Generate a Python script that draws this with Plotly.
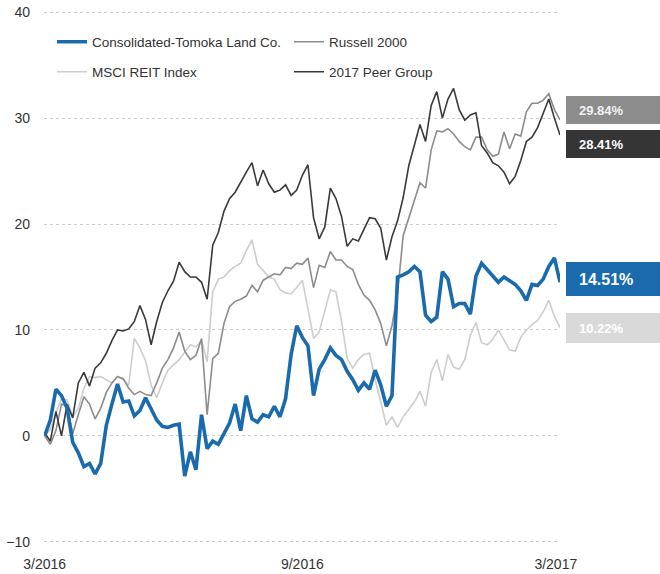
import pandas as pd
import plotly.graph_objects as go

# ---- data (cumulative % return, sampled every 4 days) ----
start_date = "2016-03-01"
n_points = 93
dates = pd.date_range(start_date, periods=n_points, freq="4D")

cto = [0, 1.5, 4.4, 3.8, 2.6, -0.6, -1.6, -2.9, -2.6, -3.6,
       -2.6, 1.0, 3.0, 4.9, 3.2, 3.3, 1.9, 2.4, 3.6, 2.6,
       1.5, 0.9, 0.8, 1.0, 1.1, -3.8, -1.5, -3.2, 2.0, -1.2,
       -0.5, -0.8, 0.2, 1.2, 3.0, 0.5, 3.8, 1.6, 1.3, 2.0,
       1.8, 2.8, 1.8, 3.5, 7.7, 10.4, 9.3, 8.5, 3.8, 6.3,
       7.2, 8.3, 7.6, 7.2, 6.1, 5.3, 4.3, 5.0, 4.4, 6.2,
       4.8, 2.8, 3.8, 15.0, 15.2, 15.5, 16.0, 15.5, 11.4, 10.8,
       11.2, 15.5, 14.8, 12.2, 12.5, 12.5, 11.5, 15.1, 16.3, 15.7,
       15.2, 14.5, 15.0, 14.6, 14.3, 13.7, 12.8, 14.3, 14.2, 14.8,
       16.0, 16.8, 14.51]

russell = [0, -0.8, 0.5, 3.0, 2.8, 0.2, 2.0, 3.7, 3.0, 1.6,
           2.6, 4.1, 5.0, 5.6, 5.4, 4.5, 3.9, 4.2, 3.9, 3.8,
           5.0, 6.4, 7.2, 8.3, 9.8, 8.0, 7.2, 7.6, 9.2, 2.0,
           7.3, 7.8, 10.6, 12.2, 12.7, 12.9, 13.2, 14.2, 13.6, 14.7,
           15.0, 15.3, 15.2, 15.9, 15.8, 16.3, 16.2, 16.8, 14.0, 16.1,
           15.9, 17.4, 16.6, 16.6, 16.0, 15.7, 14.3, 13.3, 12.8, 11.9,
           10.6, 8.5, 10.4, 13.5, 18.9, 20.6, 22.2, 23.9, 23.4, 27.0,
           28.8, 28.7, 29.0, 28.5, 27.8, 27.3, 27.0, 28.2, 28.2, 27.0,
           26.4, 26.6, 28.7, 27.1, 28.5, 28.3, 30.6, 31.4, 31.4, 31.7,
           32.3, 30.8, 29.84]

msci = [0, 0.6, 2.2, 3.5, 3.4, 1.8, 2.6, 4.5, 5.6, 5.5,
        5.6, 5.3, 5.0, 5.6, 5.3, 4.8, 9.2, 8.3, 7.1, 4.8,
        3.6, 5.0, 6.2, 6.7, 7.2, 7.9, 8.6, 8.4, 9.0, 7.0,
        13.6, 14.8, 15.0, 15.6, 16.0, 16.3, 17.5, 18.5, 16.2, 15.6,
        15.0, 14.8, 13.8, 13.5, 13.4, 14.0, 14.7, 12.0, 9.2, 9.8,
        11.9, 13.8, 13.6, 10.8, 7.3, 6.4, 7.2, 7.7, 7.8, 5.3,
        3.2, 1.0, 1.8, 0.8, 1.8, 2.5, 3.2, 4.2, 2.8, 6.0,
        7.2, 5.2, 7.7, 6.5, 6.3, 7.2, 9.5, 10.7, 8.8, 8.6,
        9.1, 10.0, 9.0, 8.1, 8.0, 9.3, 10.0, 10.5, 10.9, 11.7,
        12.8, 11.3, 10.22]

peer = [0.3, -0.5, 2.3, 0.0, 3.0, 1.7, 5.0, 6.0, 4.7, 6.4,
        6.9, 7.8, 9.0, 10.0, 9.9, 10.1, 10.8, 12.3, 11.0, 8.6,
        10.8, 12.6, 13.7, 14.6, 16.4, 15.5, 15.0, 15.0, 14.5, 12.9,
        18.0, 19.2, 21.2, 22.4, 23.0, 24.0, 24.9, 25.8, 23.6, 25.1,
        23.8, 23.0, 23.2, 23.7, 22.7, 23.2, 24.6, 25.6, 20.6, 18.6,
        19.7, 23.4, 22.4, 20.7, 17.9, 18.6, 18.4, 19.5, 20.6, 20.5,
        19.6, 16.6, 18.8, 20.3, 22.5, 25.5, 27.5, 29.4, 27.8, 31.2,
        32.5, 30.0, 31.8, 32.8, 30.8, 29.8, 30.3, 30.5, 27.4, 26.7,
        25.8, 25.5, 24.9, 23.8, 24.5, 26.0, 27.8, 28.2, 29.1, 30.5,
        31.8, 30.0, 28.41]

series_names = ["Consolidated-Tomoka Land Co.", "Russell 2000",
                "MSCI REIT Index", "2017 Peer Group"]
end_labels = ["14.51%", "29.84%", "10.22%", "28.41%"]

tick_dates = ["2016-03-01", "2016-09-01", "2017-03-01"]
tick_labels = ["3/2016", "9/2016", "3/2017"]
y_ticks = [-10, 0, 10, 20, 30, 40]

# ---- layout geometry (body margin removed, so window px == figure px) ----
FONT = "Liberation Sans, Arial, sans-serif"
W, H = 660, 574
ML, MT, PW, PH = 44, 9, 516, 536
MR = W - ML - PW
MB = H - MT - PH

def px_x(px):  # pixel -> paper x
    return (px - ML) / PW

def px_y(py):  # pixel -> paper y
    return (MT + PH - py) / PH

colors = {"cto": "#1a6aae", "russell": "#8c8c8c", "msci": "#cdcdcd", "peer": "#3a3a3a"}

fig = go.Figure()
fig.add_trace(go.Scatter(x=dates, y=msci, mode="lines", name=series_names[2],
                         line=dict(color=colors["msci"], width=1.6), legend="legend3"))
fig.add_trace(go.Scatter(x=dates, y=russell, mode="lines", name=series_names[1],
                         line=dict(color=colors["russell"], width=1.6), legend="legend2"))
fig.add_trace(go.Scatter(x=dates, y=peer, mode="lines", name=series_names[3],
                         line=dict(color=colors["peer"], width=1.6), legend="legend4"))
fig.add_trace(go.Scatter(x=dates, y=cto, mode="lines", name=series_names[0],
                         line=dict(color=colors["cto"], width=3.6), legend="legend"))

leg_font = dict(family=FONT, size=13.5, color="#333333")
def leg(px, py):
    return dict(x=px_x(px), y=px_y(py), xanchor="left", yanchor="middle",
                font=leg_font, bgcolor="rgba(0,0,0,0)", borderwidth=0)

# label boxes on the right
boxes = [
    (end_labels[1], 96, 124, "#8c8c8c", "#f2f2f2", 13),
    (end_labels[3], 130, 158, "#353535", "#ffffff", 13),
    (end_labels[0], 262, 296, "#1a6aae", "#ffffff", 16),
    (end_labels[2], 313, 343, "#d9d9d9", "#ffffff", 13),
]
shapes = []
annotations = []
for txt, y0, y1, bg, fc, fs in boxes:
    shapes.append(dict(type="rect", xref="paper", yref="paper",
                       x0=px_x(566), x1=px_x(662), y0=px_y(y1), y1=px_y(y0),
                       fillcolor=bg, line=dict(width=0), layer="above"))
    annotations.append(dict(text=f"<b>{txt}</b>", xref="paper", yref="paper",
                            x=px_x(577), y=px_y((y0 + y1) / 2), xanchor="left",
                            yanchor="middle", showarrow=False,
                            font=dict(family=FONT, size=fs, color=fc)))

fig.update_layout(
    width=W, height=H,
    margin=dict(l=ML, r=MR, t=MT, b=MB, autoexpand=False),
    paper_bgcolor="white", plot_bgcolor="white",
    font=dict(family=FONT, size=14, color="#333333"),
    showlegend=True,
    legend=leg(52, 42), legend2=leg(289, 42),
    legend3=leg(52, 72), legend4=leg(289, 72),
    shapes=shapes, annotations=annotations,
    xaxis=dict(type="date", range=["2016-02-29 12:00", "2017-03-04"],
               tickvals=tick_dates, ticktext=tick_labels, showgrid=False,
               zeroline=False, showline=False, ticks="",
               ticklabelstandoff=9, automargin=False, ticklabeloverflow="allow",
               tickfont=dict(family=FONT, size=14, color="#333333")),
    yaxis=dict(range=[-10.3, 40.3], tickvals=y_ticks, showgrid=True,
               gridcolor="#cccccc", griddash="dot", gridwidth=1,
               zeroline=False, showline=False, ticks="",
               ticklabelstandoff=13, automargin=False, ticklabeloverflow="allow",
               tickfont=dict(family=FONT, size=14, color="#333333")),
)

fig.write_html("out.html", config={"displayModeBar": False},
               post_script="document.body.style.margin='0';document.documentElement.style.overflow='hidden';")
